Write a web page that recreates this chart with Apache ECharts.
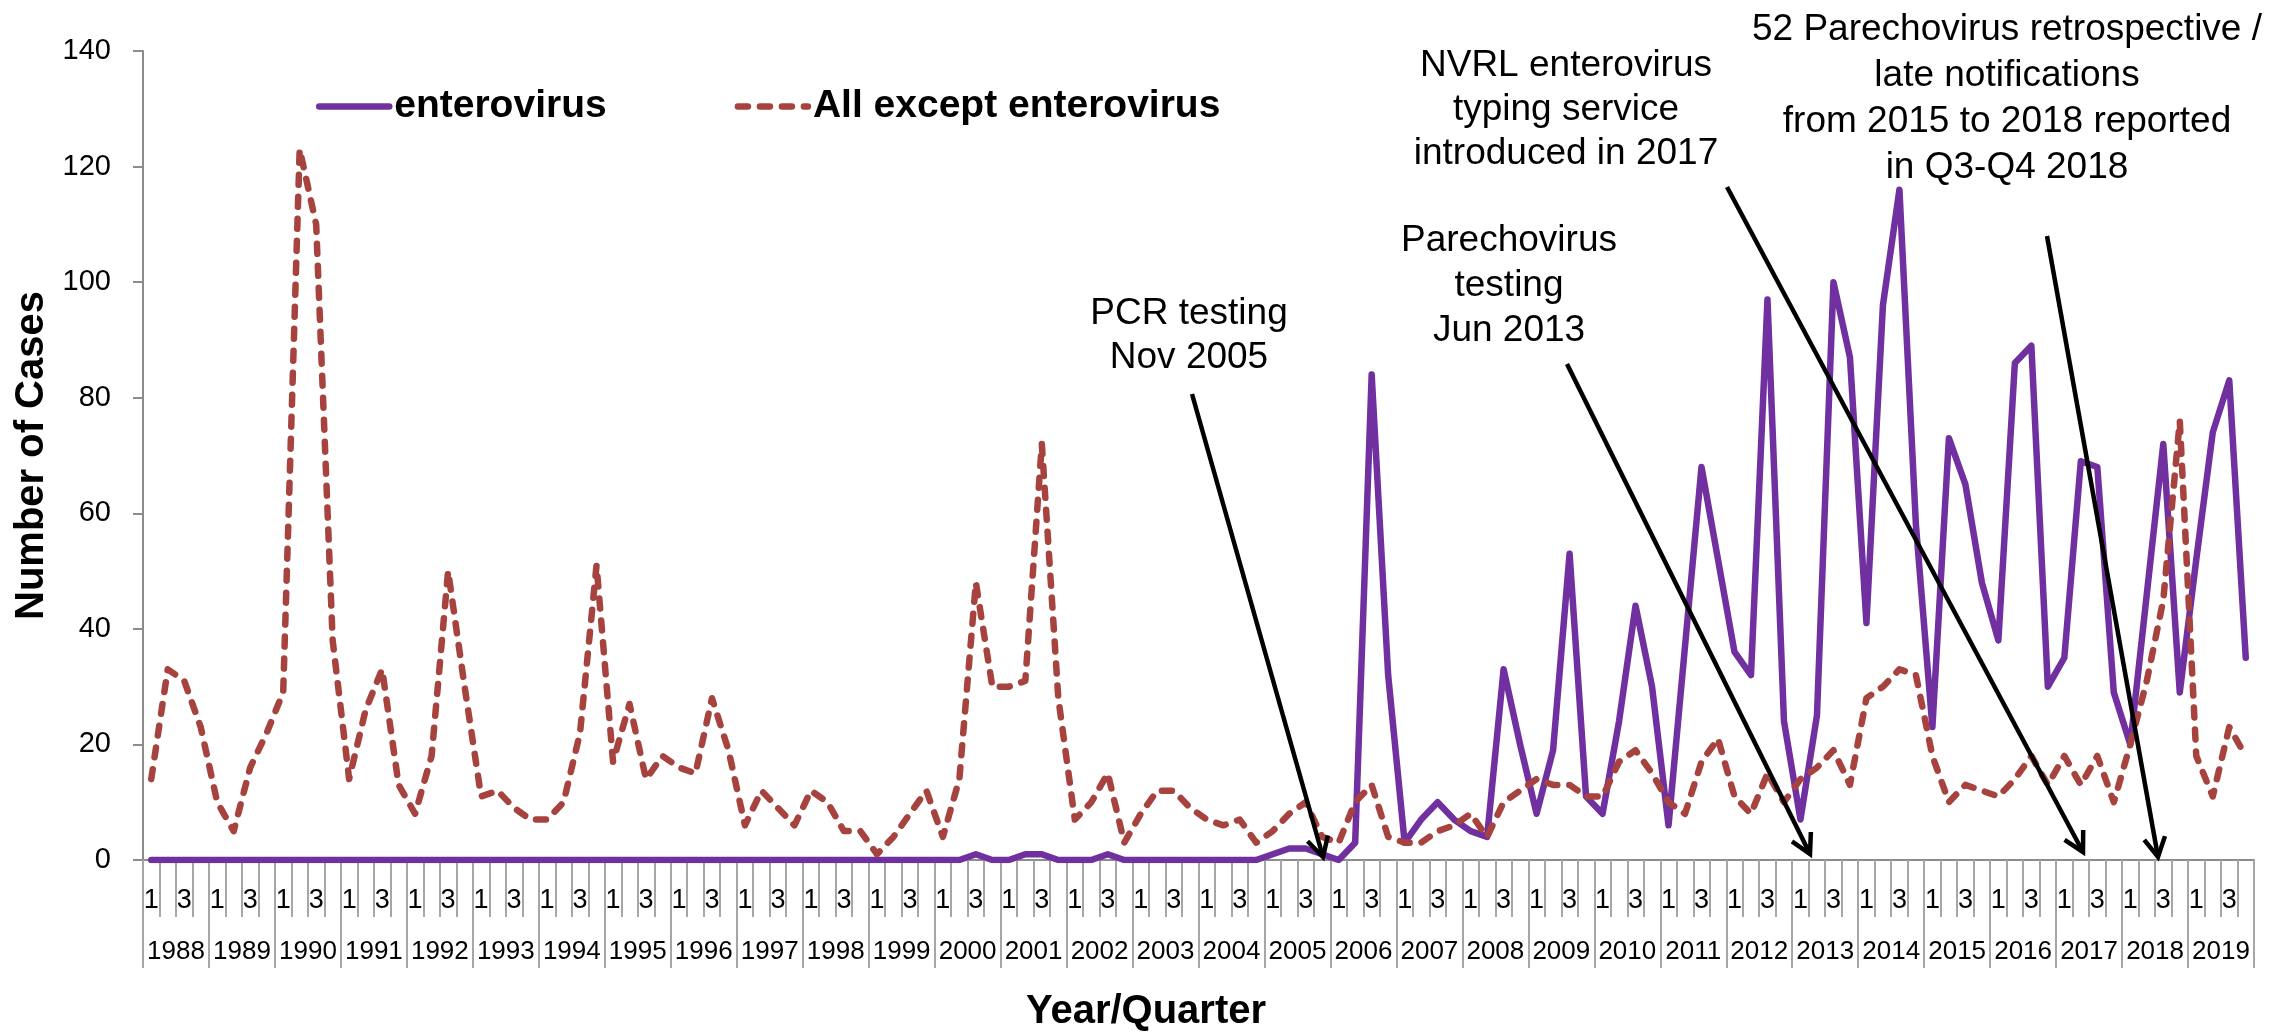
<!DOCTYPE html>
<html>
<head>
<meta charset="utf-8">
<title>Enterovirus notifications by quarter</title>
<script src="https://cdn.jsdelivr.net/npm/echarts@6/dist/echarts.min.js"></script>
<style>
  html, body { margin: 0; padding: 0; background: #fff; }
  #main { width: 2273px; height: 1032px; }
</style>
</head>
<body>
<div id="main"></div>
<script>
// quarterly cases, 1988 Q1 .. 2019 Q4
var years = [1988, 1989, 1990, 1991, 1992, 1993, 1994, 1995, 1996, 1997, 1998,
             1999, 2000, 2001, 2002, 2003, 2004, 2005, 2006, 2007, 2008, 2009,
             2010, 2011, 2012, 2013, 2014, 2015, 2016, 2017, 2018, 2019];
var quarters = ['1', '2', '3', '4'];

var enterovirus = [
  0, 0, 0, 0,   0, 0, 0, 0,   0, 0, 0, 0,   0, 0, 0, 0,      // 1988-91
  0, 0, 0, 0,   0, 0, 0, 0,   0, 0, 0, 0,   0, 0, 0, 0,      // 1992-95
  0, 0, 0, 0,   0, 0, 0, 0,   0, 0, 0, 0,   0, 0, 0, 0,      // 1996-99
  0, 0, 1, 0,   0, 1, 1, 0,   0, 0, 1, 0,   0, 0, 0, 0,      // 2000-03
  0, 0, 0, 0,   1, 2, 2, 1,   0, 3, 84, 32, 3, 7, 10, 7,     // 2004-07
  5, 4, 33, 20, 8, 19, 53, 11, 8, 24, 44, 30, 6, 37, 68, 52, // 2008-11
  36, 32, 97, 24, 7, 25, 100, 87, 41, 96, 116, 58, 23, 73, 65, 48, // 2012-15
  38, 86, 89, 30, 35, 69, 68, 29, 20, 46, 72, 29, 52, 74, 83, 35   // 2016-19
];

var allExceptEnterovirus = [
  14, 33, 31, 23, 10, 5, 16, 22, 29, 123, 110, 38, 14, 26, 33, 13, // 1988-91
  8, 18, 50, 30, 11, 12, 9, 7,  7, 10, 22, 51,  17, 27, 14, 18,     // 1992-95
  16, 15, 28, 19, 6, 12, 9, 6,  12, 10, 5, 5,   1, 4, 8, 12,        // 1996-99
  4, 14, 48, 30, 30, 31, 72, 28, 7, 10, 15, 3,  8, 12, 12, 9,       // 2000-03
  7, 6, 7, 3,   5, 8, 10, 4,    3, 10, 13, 4,   3, 3, 5, 6,         // 2004-07
  8, 4, 10, 12, 14, 13, 13, 11, 11, 17, 19, 15, 10, 8, 17, 21,      // 2008-11
  11, 8, 15, 10, 14, 16, 19, 13, 28, 30, 33, 32, 18, 10, 13, 12,    // 2012-15
  11, 14, 18, 13, 18, 13, 18, 10, 20, 31, 45, 76, 18, 11, 23, 18    // 2016-19
];

var yMin = 0, yMax = 140, yStep = 20;

// annotation texts with their arrows (pixel positions on the page)
var notes = [
  { text: 'PCR testing\nNov 2005', x: 1189, y: 292, lh: 44,
    from: [1192, 394], to: [1323, 857] },
  { text: 'Parechovirus\ntesting\nJun 2013', x: 1509, y: 218, lh: 45,
    from: [1567, 364], to: [1810, 854] },
  { text: 'NVRL enterovirus\ntyping service\nintroduced in 2017', x: 1566, y: 44, lh: 44,
    from: [1727, 187], to: [2083, 852] },
  { text: '52 Parechovirus retrospective /\nlate notifications\nfrom 2015 to 2018 reported\nin Q3-Q4 2018',
    x: 2007, y: 7, lh: 46, from: [2047, 236], to: [2158, 857] }
];

var FONT = '"Liberation Sans", Arial, sans-serif';
var AXIS_GREY = '#8c8c8c';

var categories = [];
years.forEach(function (y) {
  quarters.forEach(function (q) { categories.push(y + ' Q' + q); });
});

function arrow(p, q) {
  var a = Math.atan2(q[1] - p[1], q[0] - p[0]);
  var len = 22, spread = 0.5;
  return [
    { type: 'line', z: 100, shape: { x1: p[0], y1: p[1], x2: q[0], y2: q[1] },
      style: { stroke: '#000', lineWidth: 4.5 } },
    { type: 'polyline', z: 100,
      shape: { points: [
        [q[0] - len * Math.cos(a - spread), q[1] - len * Math.sin(a - spread)],
        [q[0], q[1]],
        [q[0] - len * Math.cos(a + spread), q[1] - len * Math.sin(a + spread)]
      ] },
      style: { stroke: '#000', lineWidth: 4.5, fill: null } }
  ];
}

var graphics = [];
notes.forEach(function (n) {
  graphics.push({
    type: 'text', x: n.x, y: n.y, z: 100,
    style: {
      text: n.text, fill: '#000', fontSize: 37, fontFamily: FONT,
      align: 'center', textAlign: 'center', verticalAlign: 'top', textVerticalAlign: 'top',
      lineHeight: n.lh
    }
  });
  graphics = graphics.concat(arrow(n.from, n.to));
});
// x axis title
graphics.push({
  type: 'text', x: 1146, y: 1012, z: 100,
  style: {
    text: 'Year/Quarter', fill: '#000', fontSize: 40, fontWeight: 'bold', fontFamily: FONT,
    align: 'center', textAlign: 'center', verticalAlign: 'middle', textVerticalAlign: 'middle'
  }
});

var chart = echarts.init(document.getElementById('main'), null, { renderer: 'canvas' });

var option = {
  animation: false,
  backgroundColor: '#fff',
  textStyle: { fontFamily: FONT },
  grid: { left: 143, right: 19, top: 51, bottom: 172, containLabel: false },
  legend: {
    left: 311, top: 82,
    itemWidth: 70, itemHeight: 14, itemGap: 128,
    itemStyle: { opacity: 0 },
    lineStyle: { width: 6.5 },
    textStyle: { fontSize: 39, fontWeight: 'bold', color: '#000', fontFamily: FONT },
    data: ['enterovirus', 'All except enterovirus']
  },
  xAxis: [
    {
      type: 'category',
      data: categories,
      boundaryGap: true,
      axisLine: { show: true, lineStyle: { color: AXIS_GREY, width: 2 } },
      axisTick: { show: true, interval: 0, length: 57, lineStyle: { color: '#a6a6a6', width: 2 } },
      axisLabel: {
        interval: 1, margin: 27, fontSize: 27, color: '#000', fontFamily: FONT,
        formatter: function (v) { return v.split(' Q')[1]; }
      },
      splitLine: { show: false }
    },
    {
      type: 'category',
      data: years,
      position: 'bottom',
      boundaryGap: true,
      axisLine: { show: false },
      axisTick: { show: true, interval: 0, length: 108, lineStyle: { color: '#a6a6a6', width: 2 } },
      axisLabel: { interval: 0, margin: 79, fontSize: 26, color: '#000', fontFamily: FONT },
      splitLine: { show: false }
    }
  ],
  yAxis: {
    type: 'value',
    min: yMin, max: yMax, interval: yStep,
    name: 'Number of Cases',
    nameLocation: 'middle',
    nameGap: 79,
    nameTextStyle: { fontSize: 40, fontWeight: 'bold', color: '#000', fontFamily: FONT },
    axisLine: { show: true, lineStyle: { color: AXIS_GREY, width: 2 } },
    axisTick: { show: true, length: 10, lineStyle: { color: AXIS_GREY, width: 2 } },
    axisLabel: { margin: 32, fontSize: 29, color: '#000', fontFamily: FONT },
    splitLine: { show: false }
  },
  series: [
    {
      name: 'enterovirus',
      type: 'line',
      xAxisIndex: 0,
      data: enterovirus,
      symbol: 'none',
      lineStyle: { color: '#7030A0', width: 6.5, join: 'round', cap: 'round' },
      itemStyle: { color: '#7030A0' },
      z: 3
    },
    {
      name: 'All except enterovirus',
      type: 'line',
      xAxisIndex: 0,
      data: allExceptEnterovirus,
      symbol: 'none',
      lineStyle: { color: '#A7433F', width: 6.5, type: [10, 12], cap: 'round', join: 'round' },
      itemStyle: { color: '#A7433F' },
      z: 4
    }
  ],
  graphic: graphics
};

chart.setOption(option);
</script>
</body>
</html>
